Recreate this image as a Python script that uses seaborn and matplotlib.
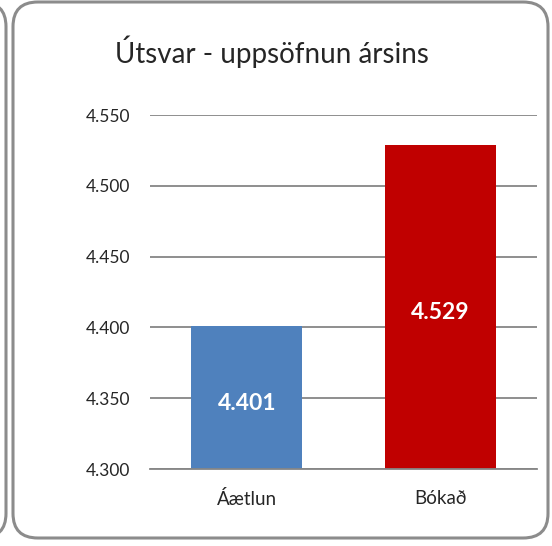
import matplotlib
matplotlib.use("Agg")
import matplotlib.pyplot as plt
from matplotlib.patches import FancyBboxPatch
import seaborn as sns
import pandas as pd

# data
categories = ["Áætlun", "Bókað"]
values = [4.401, 4.529]
bar_colors = ["#4F81BD", "#C00000"]
y_ticks = [4.300, 4.350, 4.400, 4.450, 4.500, 4.550]
title = "Útsvar - uppsöfnun ársins"

df = pd.DataFrame({"cat": categories, "val": values})

sns.set_style("white")
plt.rcParams['font.family'] = ['Lato', 'DejaVu Sans']

fig = plt.figure(figsize=(5.52, 5.46), dpi=100)
ax = fig.add_axes([150 / 552, 77 / 546, 387 / 552, 354 / 546])

sns.barplot(data=df, x="cat", y="val", hue="cat", palette=bar_colors,
            width=0.575, legend=False, ax=ax, saturation=1, zorder=3,
            linewidth=0, edgecolor="none")

ax.set_ylim(4.300, 4.550)
ax.set_yticks(y_ticks)
ax.set_yticklabels([f"{v:.3f}" for v in y_ticks], fontsize=12.5)
ax.tick_params(axis="y", length=0, pad=14)
ax.tick_params(axis="x", length=0, pad=15, labelsize=13.5)
ax.set_xlabel("")
ax.set_ylabel("")
ax.yaxis.grid(True, color="#868686", linewidth=1.3, zorder=0)
ax.set_axisbelow(True)
for s in ["left", "right", "top"]:
    ax.spines[s].set_visible(False)
ax.spines["bottom"].set_color("#868686")
ax.spines["bottom"].set_linewidth(1.3)
ax.spines["bottom"].set_zorder(4)

# value labels inside bars
for i, v in enumerate(values):
    ax.text(i, (4.300 + v) / 2 - 0.004, f"{v:.3f}", ha="center", va="center",
            color="white", fontsize=16.5, fontweight="bold", zorder=5)

fig.text(272 / 552, 1 - 52 / 546, title, ha="center", va="center", fontsize=20)

# rounded chart frames
frame = FancyBboxPatch((13 / 552, 8 / 546), 535 / 552, 536 / 546,
                       boxstyle="round,pad=0,rounding_size=0.045",
                       transform=fig.transFigure, fill=False,
                       edgecolor="#8C8C8C", linewidth=2.2)
fig.add_artist(frame)
left_frame = FancyBboxPatch((-0.6, 8 / 546), 0.6 + 6 / 552, 536 / 546,
                            boxstyle="round,pad=0,rounding_size=0.045",
                            transform=fig.transFigure, fill=False,
                            edgecolor="#8C8C8C", linewidth=2.2)
fig.add_artist(left_frame)

fig.savefig("out.png", dpi=100)
